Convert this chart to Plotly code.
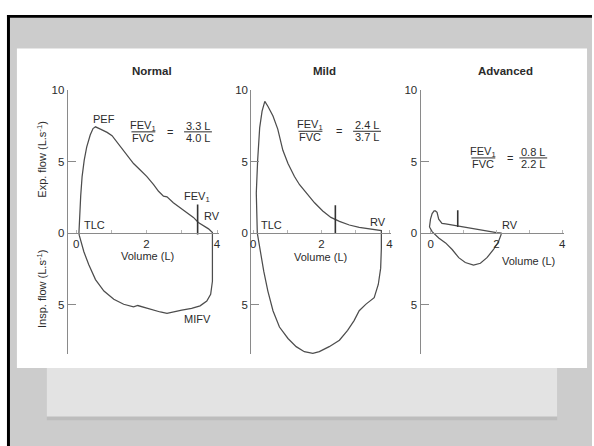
import plotly.graph_objects as go

W, H = 594, 446

# ---------------- data (volume in L, flow in L/s; inspiration negative) ----------------
panel_names = ["Normal", "Mild", "Advanced"]

normal_exp_vol = [0.08, 0.10, 0.13, 0.17, 0.23, 0.30, 0.40, 0.48, 0.55, 0.69, 0.88, 1.02, 1.16,
                  1.30, 1.49, 1.63, 1.82, 2.01, 2.20, 2.34, 2.48, 2.58, 2.76, 2.95, 3.14, 3.33,
                  3.47, 3.61, 3.76, 3.87]
normal_exp_flow = [0.0, 1.2, 2.6, 3.95, 5.1, 6.0, 6.85, 7.3, 7.42, 7.26, 7.03, 6.8, 6.35,
                   5.89, 5.32, 4.86, 4.41, 3.95, 3.38, 2.92, 2.58, 2.53, 2.12, 1.78, 1.44, 1.1,
                   0.75, 0.53, 0.3, 0.05]
normal_insp_vol = [3.87, 3.87, 3.87, 3.82, 3.71, 3.52, 3.28, 3.0, 2.76, 2.58, 2.39, 2.2, 1.92,
                   1.75, 1.63, 1.35, 1.07, 0.79, 0.55, 0.36, 0.22, 0.13, 0.09, 0.08]
normal_insp_flow = [0.05, -1.76, -3.36, -4.27, -4.73, -5.07, -5.25, -5.37, -5.53, -5.6, -5.5,
                    -5.37, -5.18, -5.05, -5.14, -4.96, -4.61, -4.04, -3.24, -2.21, -1.3, -0.62,
                    -0.16, 0.0]

mild_exp_vol = [0.12, 0.09, 0.13, 0.19, 0.26, 0.34, 0.43, 0.58, 0.72, 0.87, 1.02, 1.21, 1.36,
                1.55, 1.80, 2.04, 2.28, 2.53, 2.82, 3.11, 3.40, 3.64, 3.76]
mild_exp_flow = [0.0, 2.81, 5.09, 7.37, 8.51, 9.2, 8.86, 8.17, 7.26, 5.78, 4.86, 3.95, 3.38,
                 2.81, 2.12, 1.55, 1.1, 0.82, 0.57, 0.41, 0.3, 0.23, 0.18]
mild_insp_vol = [3.76, 3.76, 3.74, 3.67, 3.55, 3.31, 3.11, 2.96, 2.77, 2.53, 2.23, 1.94, 1.75,
                 1.50, 1.26, 1.02, 0.77, 0.58, 0.43, 0.31, 0.21, 0.15, 0.12]
mild_insp_flow = [0.18, -1.07, -2.44, -3.58, -4.5, -4.95, -5.41, -6.1, -6.78, -7.47, -7.92,
                  -8.27, -8.38, -8.27, -7.92, -7.35, -6.55, -5.41, -4.04, -2.67, -1.3, -0.39, 0.0]

adv_exp_vol = [-0.04, -0.01, 0.04, 0.10, 0.14, 0.19, 0.24, 0.34, 0.45, 0.55, 0.70, 0.82, 1.0,
               1.15, 1.45, 1.76, 2.0, 2.14]
adv_exp_flow = [0.43, 0.98, 1.37, 1.55, 1.55, 1.46, 0.98, 0.68, 0.64, 0.6, 0.55, 0.47, 0.4,
                0.34, 0.25, 0.14, 0.04, 0.0]
adv_insp_vol = [2.14, 2.14, 2.06, 1.91, 1.71, 1.51, 1.30, 1.05, 0.85, 0.65, 0.45, 0.24, 0.04, -0.04]
adv_insp_flow = [0.0, -0.1, -0.6, -1.14, -1.71, -2.1, -2.23, -2.05, -1.71, -1.14, -0.68,
                 -0.34, 0.11, 0.43]

# FEV1 marks: volume, flow from, flow to
fev1_vol = [3.45, 2.41, 0.82]
fev1_lo = [-0.1, 0.0, 0.43]
fev1_hi = [2.0, 1.95, 1.6]

# FEV1 / FVC ratios printed in each panel
fev1_text = ["3.3 L", "2.4 L", "0.8 L"]
fvc_text = ["4.0 L", "3.7 L", "2.2 L"]

y_tickvals = [10, 5, 0, -5]
y_ticktext = ["10", "5", "0", "5"]
x_tickvals = [0, 2, 4]
x_ticktext = ["0", "2", "4"]

# ---------------- geometry ----------------
Y_MIN, Y_MAX = -8.45, 10
Y_TOP_PX, Y_BOT_PX = 85, 353
# per panel: pixel of the y axis, pixel of volume 0, pixels per litre
panel_px = [(67, 75.5, 35.4), (251.5, 253.5, 34.25), (421.7, 432, 33.0)]
X_MAX = 4.05


def px_x(px):
    return px / W


def px_y(py):
    return 1 - py / H


y_dom = [px_y(Y_BOT_PX), px_y(Y_TOP_PX)]
zero_pos = y_dom[0] + (0 - Y_MIN) / (Y_MAX - Y_MIN) * (y_dom[1] - y_dom[0])

FONT = "Liberation Sans, Arial, Helvetica, sans-serif"
INK = "#2b2b2b"
CURVE = "#4d4d4d"
AXIS = "#8a8a8a"

fig = go.Figure()

loops = [
    (normal_exp_vol, normal_exp_flow, normal_insp_vol, normal_insp_flow),
    (mild_exp_vol, mild_exp_flow, mild_insp_vol, mild_insp_flow),
    (adv_exp_vol, adv_exp_flow, adv_insp_vol, adv_insp_flow),
]

for i, (ev, ef, iv, iflow) in enumerate(loops):
    xa = "x" if i == 0 else f"x{i + 1}"
    ya = "y" if i == 0 else f"y{i + 1}"
    fig.add_trace(go.Scatter(x=ev + iv, y=ef + iflow, mode="lines", xaxis=xa, yaxis=ya,
                             line=dict(color=CURVE, width=1.25), showlegend=False,
                             hoverinfo="skip"))
    fig.add_trace(go.Scatter(x=[fev1_vol[i], fev1_vol[i]], y=[fev1_lo[i], fev1_hi[i]],
                             mode="lines", xaxis=xa, yaxis=ya,
                             line=dict(color="#333333", width=1.6), showlegend=False,
                             hoverinfo="skip"))

layout = dict(
    width=W, height=H, autosize=False,
    margin=dict(l=0, r=0, t=0, b=0),
    paper_bgcolor="white", plot_bgcolor="rgba(0,0,0,0)",
    font=dict(family=FONT, size=11, color=INK),
    showlegend=False,
)

for i, (ax_px, zero_px, ppl) in enumerate(panel_px):
    x_lo = (ax_px - zero_px) / ppl
    right_px = zero_px + X_MAX * ppl
    sx = "" if i == 0 else str(i + 1)
    layout[f"xaxis{sx}"] = dict(
        domain=[px_x(ax_px), px_x(right_px)], range=[x_lo, X_MAX],
        anchor="free", position=zero_pos,
        showline=True, linecolor=AXIS, linewidth=1,
        ticks="inside", ticklen=3, tickcolor="#b5b5b5", tickwidth=1,
        tickmode="array", tickvals=x_tickvals, ticktext=x_ticktext,
        minor=dict(ticks="inside", ticklen=3, tickcolor="#b5b5b5", tickmode="linear",
                   tick0=0, dtick=1),
        tickfont=dict(size=11.5, color=INK),
        showgrid=False, zeroline=False, fixedrange=True,
    )
    layout[f"yaxis{sx}"] = dict(
        domain=y_dom, range=[Y_MIN, Y_MAX], anchor=f"x{sx}",
        showline=True, linecolor=AXIS, linewidth=1,
        ticks="inside", ticklen=8, tickcolor=AXIS, tickwidth=1,
        tickvals=y_tickvals, ticktext=y_ticktext,
        tickfont=dict(size=11.5, color=INK),
        showgrid=False, zeroline=False, fixedrange=True,
    )

fig.update_layout(**layout)

# ---------------- backdrop: grey board, black frame, white card, pale strip ----------------
shapes = [
    dict(type="rect", xref="paper", yref="paper", x0=px_x(6), x1=1, y0=0, y1=px_y(9),
         fillcolor="#cccccc", line_width=0, layer="below"),
    dict(type="rect", xref="paper", yref="paper", x0=px_x(46), x1=px_x(559), y0=px_y(420),
         y1=px_y(366), fillcolor="#bdbdbd", line_width=0, layer="below"),
    dict(type="rect", xref="paper", yref="paper", x0=px_x(46), x1=px_x(559), y0=px_y(416),
         y1=px_y(366), fillcolor="#e3e3e3", line_width=0, layer="below"),
    dict(type="rect", xref="paper", yref="paper", x0=px_x(16), x1=px_x(589), y0=px_y(367),
         y1=px_y(43), fillcolor="white", line_width=0, layer="below"),
    dict(type="rect", xref="paper", yref="paper", x0=px_x(6), x1=px_x(9), y0=0, y1=px_y(9),
         fillcolor="black", line_width=0, layer="below"),
    dict(type="rect", xref="paper", yref="paper", x0=px_x(6), x1=1, y0=px_y(12), y1=px_y(9),
         fillcolor="black", line_width=0, layer="below"),
]

annotations = []

# panel titles
for name, cx in zip(panel_names, [152, 325, 507]):
    annotations.append(dict(text=f"<b>{name}</b>", xref="paper", yref="paper", x=px_x(cx),
                            y=px_y(66), showarrow=False, xanchor="center", yanchor="middle",
                            font=dict(size=11.5, color=INK)))

# y axis titles (left panel)
annotations.append(dict(text="Exp. flow (L.s<sup>-1</sup>)", xref="paper", yref="paper",
                        x=px_x(41), y=px_y(155), textangle=-90, showarrow=False,
                        xanchor="center", yanchor="middle", font=dict(size=11, color=INK)))
annotations.append(dict(text="Insp. flow (L.s<sup>-1</sup>)", xref="paper", yref="paper",
                        x=px_x(41), y=px_y(287), textangle=-90, showarrow=False,
                        xanchor="center", yanchor="middle", font=dict(size=11, color=INK)))

# labels in data coordinates: (panel, text, volume, flow)
labels = [
    (0, "PEF", 0.78, 8.0),
    (0, "TLC", 0.52, 0.55),
    (0, "FEV<sub>1</sub>", 3.42, 2.5),
    (0, "RV", 3.85, 1.2),
    (0, "MIFV", 3.46, -6.0),
    (0, "Volume (L)", 2.02, -1.6),
    (1, "TLC", 0.55, 0.55),
    (1, "RV", 3.66, 0.75),
    (1, "Volume (L)", 1.96, -1.65),
    (2, "RV", 2.4, 0.55),
    (2, "Volume (L)", 2.97, -1.95),
]
for p, txt, vx, fy in labels:
    sx = "" if p == 0 else str(p + 1)
    annotations.append(dict(text=txt, xref=f"x{sx}", yref=f"y{sx}", x=vx, y=fy,
                            showarrow=False, xanchor="center", yanchor="middle",
                            font=dict(size=11, color=INK)))

# FEV1/FVC fractions: left centre, '=' position, right centre, bar level (data units)
frac_pos = [(1.91, 2.67, 3.46, 7.07), (1.68, 2.53, 3.34, 7.11), (1.6, 2.42, 3.12, 5.25)]
for p, (lx, ex, rx, by) in enumerate(frac_pos):
    sx = "" if p == 0 else str(p + 1)
    ppl = panel_px[p][2]
    dy = 6.3 / ((Y_BOT_PX - Y_TOP_PX) / (Y_MAX - Y_MIN))
    for txt, xx, yy in [("FEV<sub>1</sub>", lx, by + dy), ("FVC", lx, by - dy),
                        ("=", ex, by), (fev1_text[p], rx, by + dy), (fvc_text[p], rx, by - dy)]:
        annotations.append(dict(text=txt, xref=f"x{sx}", yref=f"y{sx}", x=xx, y=yy,
                                showarrow=False, xanchor="center", yanchor="middle",
                                font=dict(size=11, color=INK)))
    for cx, half_px in [(lx, 12), (rx, 14)]:
        shapes.append(dict(type="line", xref=f"x{sx}", yref=f"y{sx}",
                           x0=cx - half_px / ppl, x1=cx + half_px / ppl, y0=by, y1=by,
                           line=dict(color=INK, width=1)))

fig.update_layout(shapes=shapes, annotations=annotations)

fig.write_html("out.html")
